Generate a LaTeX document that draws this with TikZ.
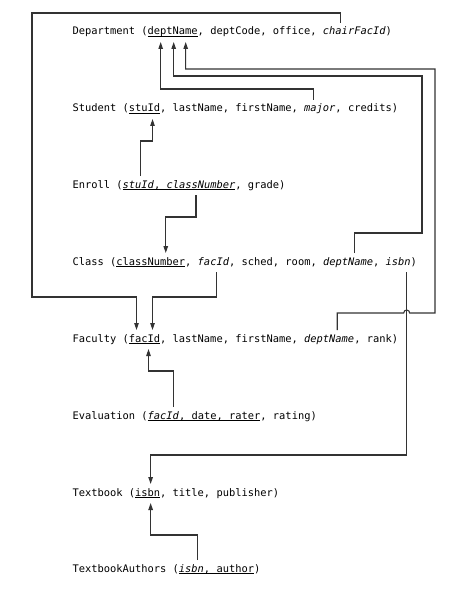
\documentclass[tikz,border=0pt]{standalone}
\usepackage{fontspec}
\setmonofont{DejaVu Sans Mono}
\usepackage{tikz}
\usetikzlibrary{positioning,arrows.meta}

% primary key: underline kept at the baseline
\newcommand\pk[1]{\underline{\smash{#1}}}
% trailing space that the node keeps
\newcommand\gap{\mbox{\ }}

\begin{document}
\begin{tikzpicture}[x=1pt, y=-1pt,
  rel/.style={inner sep=0pt, outer xsep=0pt, outer ysep=4pt,
    text height=8pt, text depth=3pt,
    font=\ttfamily\fontsize{10.4}{12}\selectfont},
  fk/.style={draw=black!80, line width=1.1pt,
    -{Triangle[length=7pt,width=4.5pt]}}]
  \useasboundingbox (0,0) rectangle (464,596);

  %----- relations -----
  % Department
  \node[rel, anchor=base west] (dept) at (72.5,35) {Department (};
  \node[rel, right=0pt of dept] (deptName) {\pk{deptName}};
  \node[rel, right=0pt of deptName] (deptMid) {, deptCode, office,\gap};
  \node[rel, right=0pt of deptMid] (chairFacId) {\textit{chairFacId}};
  \node[rel, right=0pt of chairFacId] (deptEnd) {)};
  % Student
  \node[rel, anchor=base west] (stu) at (72.5,112) {Student (};
  \node[rel, right=0pt of stu] (stuId) {\pk{stuId}};
  \node[rel, right=0pt of stuId] (stuMid) {, lastName, firstName,\gap};
  \node[rel, right=0pt of stuMid] (major) {\textit{major}};
  \node[rel, right=0pt of major] (stuEnd) {, credits)};
  % Enroll
  \node[rel, anchor=base west] (enr) at (72.5,188) {Enroll (};
  \node[rel, right=0pt of enr] (enrStuId) {\pk{\textit{stuId}}};
  \node[rel, right=0pt of enrStuId] (enrSep) {\pk{,\gap}};
  \node[rel, right=0pt of enrSep] (enrClassNo) {\pk{\textit{classNumber}}};
  \node[rel, right=0pt of enrClassNo] (enrEnd) {, grade)};
  % Class
  \node[rel, anchor=base west] (cls) at (72.5,265) {Class (};
  \node[rel, right=0pt of cls] (clsNo) {\pk{classNumber}};
  \node[rel, right=0pt of clsNo] (clsSep) {,\gap};
  \node[rel, right=0pt of clsSep] (clsFacId) {\textit{facId}};
  \node[rel, right=0pt of clsFacId] (clsMid) {, sched, room,\gap};
  \node[rel, right=0pt of clsMid] (clsDept) {\textit{deptName}};
  \node[rel, right=0pt of clsDept] (clsSep2) {,\gap};
  \node[rel, right=0pt of clsSep2] (clsIsbn) {\textit{isbn}};
  \node[rel, right=0pt of clsIsbn] (clsEnd) {)};
  % Faculty
  \node[rel, anchor=base west] (fac) at (72.5,342) {Faculty (};
  \node[rel, right=0pt of fac] (facId) {\pk{facId}};
  \node[rel, right=0pt of facId] (facMid) {, lastName, firstName,\gap};
  \node[rel, right=0pt of facMid] (facDept) {\textit{deptName}};
  \node[rel, right=0pt of facDept] (facEnd) {, rank)};
  % Evaluation
  \node[rel, anchor=base west] (eva) at (72.5,419) {Evaluation (};
  \node[rel, right=0pt of eva] (evaFacId) {\pk{\textit{facId}}};
  \node[rel, right=0pt of evaFacId] (evaRest) {\pk{, date, rater}};
  \node[rel, right=0pt of evaRest] (evaEnd) {, rating)};
  % Textbook
  \node[rel, anchor=base west] (txt) at (72.5,496) {Textbook (};
  \node[rel, right=0pt of txt] (isbn) {\pk{isbn}};
  \node[rel, right=0pt of isbn] (txtEnd) {, title, publisher)};
  % TextbookAuthors
  \node[rel, anchor=base west] (auth) at (72.5,572) {TextbookAuthors (};
  \node[rel, right=0pt of auth] (authIsbn) {\pk{\textit{isbn}}};
  \node[rel, right=0pt of authIsbn] (authRest) {\pk{, author}};
  \node[rel, right=0pt of authRest] (authEnd) {)};

  %----- rails -----
  \coordinate (outerTop) at (32,13);
  \coordinate (facRail) at (0,297);
  \coordinate (deptRailA) at (422,76);
  \coordinate (deptRailB) at (435,69);
  \coordinate (facDeptRail) at (0,313);
  \coordinate (isbnRail) at (0,455);
  \coordinate (isbnDrop) at ([xshift=8.5pt]clsIsbn.south);
  \coordinate (hopMid) at (isbnDrop |- facDeptRail);

  %----- foreign keys -----
  \draw[fk] ([xshift=-6pt]major.north) -- ++(0,-11) -| ([xshift=-12pt]deptName.south);
  \draw[fk] ([xshift=6pt]clsDept.north) -- ++(0,-20) -| (deptRailA) -| ([xshift=1pt]deptName.south);
  \draw[fk] ([xshift=8pt]facDept.north) |- ([xshift=-3pt]hopMid)
    arc[start angle=180, end angle=0, radius=3pt]
    -| (deptRailB) -| ([xshift=13pt]deptName.south);
  \draw[fk] ([xshift=-14pt]chairFacId.north) |- (outerTop)
    |- ([xshift=-8pt]facId.north |- facRail) -- ([xshift=-8pt]facId.north);
  \draw[fk] ([xshift=3pt]clsFacId.south) |- ([xshift=8pt]facId.north |- facRail)
    -- ([xshift=8pt]facId.north);
  \draw[fk] ([xshift=2pt]enrStuId.north) -- ++(0,-35) -| ([xshift=8pt]stuId.south);
  \draw[fk] ([xshift=-5pt]enrClassNo.south) -- ++(0,22) -| ([xshift=15pt]clsNo.north);
  \draw[fk] ([xshift=10pt]evaFacId.north) -- ++(0,-36) -| ([xshift=4pt]facId.south);
  \draw[fk] (isbnDrop) |- ([xshift=3pt]isbn.north |- isbnRail) -- ([xshift=3pt]isbn.north);
  \draw[fk] ([xshift=6pt]authIsbn.north) -- ++(0,-25) -| ([xshift=3pt]isbn.south);
\end{tikzpicture}
\end{document}
